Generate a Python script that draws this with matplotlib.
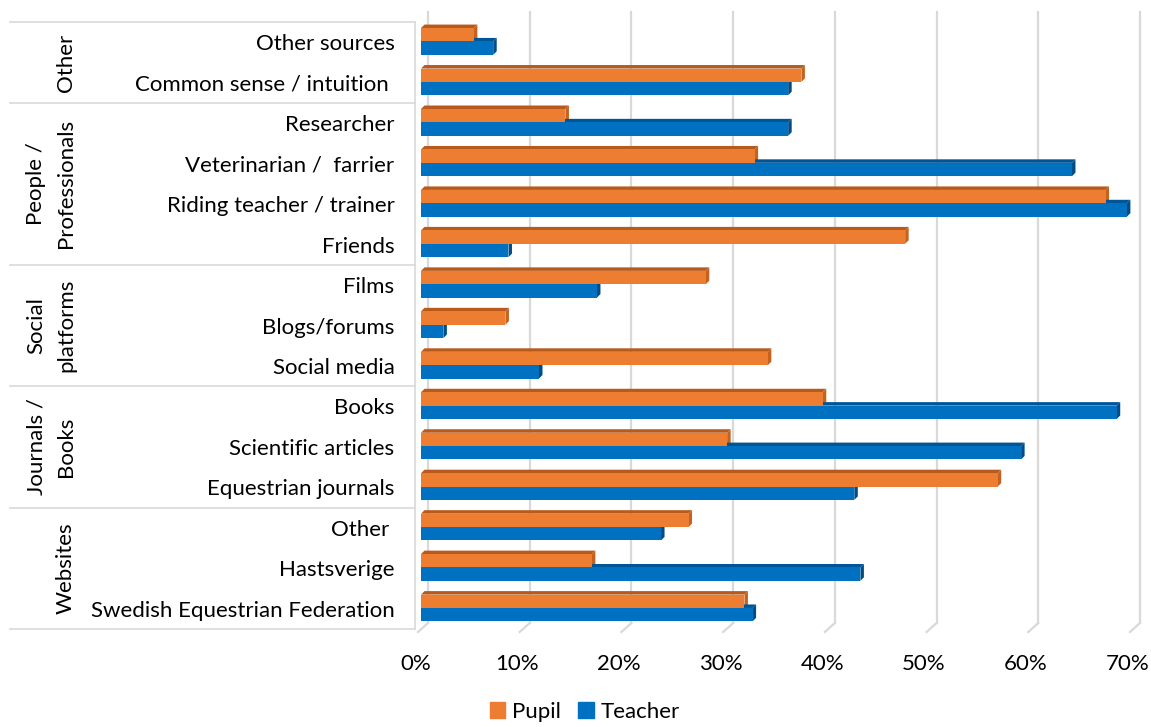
import numpy as np
import matplotlib.pyplot as plt
from matplotlib.patches import Polygon, Patch
from matplotlib.transforms import blended_transform_factory, ScaledTranslation

# categories from top to bottom
categories = ["Other sources", "Common sense / intuition ", "Researcher",
              "Veterinarian /  farrier", "Riding teacher / trainer", "Friends",
              "Films", "Blogs/forums", "Social media", "Books",
              "Scientific articles", "Equestrian journals", "Other ",
              "Hastsverige", "Swedish Equestrian Federation"]
pupil = [5.2, 37.4, 14.2, 32.8, 67.3, 47.6, 28.0, 8.3, 34.1, 39.5,
         30.1, 56.7, 26.3, 16.8, 31.8]
teacher = [7.1, 36.1, 36.1, 64.0, 69.4, 8.6, 17.3, 2.2, 11.6, 68.4,
           59.0, 42.6, 23.6, 43.2, 32.6]
groups = ["Other", "People /\nProfessionals", "Social\nplatforms", "Journals /\nBooks", "Websites"]
group_sizes = [2, 4, 3, 3, 3]
ticks = [0, 10, 20, 30, 40, 50, 60, 70]

plt.rcParams['font.family'] = ['Lato', 'DejaVu Sans']
fig = plt.figure(figsize=(11.51, 7.27), dpi=100)
W, H = 1151, 727
ax = fig.add_axes([421 / W, 98 / H, 712 / W, 607 / H])

n = len(categories)
y = np.arange(n)[::-1]  # top category gets highest y
h = 0.33
ax.set_xlim(0, 70)
ax.set_ylim(-0.5, n - 0.5)

# pixel -> data helpers for the 3D look
px_x = 70 / 712
px_y = n / 607
dx, dy = 3.5 * px_x, 3.5 * px_y

# back wall gridlines with a small floor slant
for t in ticks:
    gx = t + 7 * px_x
    ax.plot([gx, gx], [-0.5 + 6 * px_y, n - 0.5 + 10 * px_y], color='#d9d9d9', lw=1.6,
            clip_on=False, zorder=0)
    ax.plot([gx, t - 3 * px_x], [-0.5 + 6 * px_y, -0.5 - 3 * px_y], color='#d9d9d9', lw=1.6,
            clip_on=False, zorder=0)

series = [(pupil, y + h / 2 + 0.02, '#ED7D31', '#B85A1B', '#C4621F'),
          (teacher, y - h / 2 + 0.02, '#0070C0', '#005596', '#004C87')]
for vals, ys, face, top, side in series:
    ax.barh(ys, vals, height=h, color=face, zorder=3, linewidth=0)
    for v, yc in zip(vals, ys):
        yt = yc + h / 2
        ax.add_patch(Polygon([(0, yt), (v, yt), (v + dx, yt + dy), (dx, yt + dy)],
                             closed=True, color=top, lw=0, zorder=2, clip_on=False))
        ax.add_patch(Polygon([(v, yt), (v + dx, yt + dy), (v + dx, yt - h + dy), (v, yt - h)],
                             closed=True, color=side, lw=0, zorder=2, clip_on=False))

for s in ax.spines.values():
    s.set_visible(False)
ax.set_yticks(y)
ax.set_yticklabels(categories, fontsize=16, color='#000000')
ax.set_xticks(ticks)
ax.set_xticklabels([f"{t}%" for t in ticks], fontsize=16, color='#000000')
ax.tick_params(axis='y', length=0, pad=19)
ax.tick_params(axis='x', length=0, pad=18)
shift = ScaledTranslation(-4 / 72, 0, fig.dpi_scale_trans)
for lab in ax.get_xticklabels():
    lab.set_transform(lab.get_transform() + shift)

# group separators and labels on the left
tr = blended_transform_factory(fig.transFigure, ax.transData)
bounds = [n - 0.5]
for s in group_sizes:
    bounds.append(bounds[-1] - s)
for b in bounds:
    ax.plot([10 / W, 415 / W], [b, b], color='#d9d9d9', lw=1.2, transform=tr, clip_on=False)
ax.plot([415 / W, 415 / W], [bounds[0], bounds[-1]], color='#d9d9d9', lw=1.2,
        transform=tr, clip_on=False)
for g, top_b, bot_b in zip(groups, bounds[:-1], bounds[1:]):
    ax.text(76 / W, (top_b + bot_b) / 2, g, rotation=90, ha='right', va='center',
            fontsize=16, transform=tr, linespacing=1.6, multialignment='center')

handles = [Patch(color='#ED7D31', label='Pupil'), Patch(color='#0070C0', label='Teacher')]
fig.legend(handles=handles, loc='lower center', bbox_to_anchor=(0.508, -0.02), ncol=2,
           frameon=False, fontsize=16, handlelength=0.7, handleheight=0.7,
           handletextpad=0.3, columnspacing=0.8)

fig.savefig('out.png', dpi=100)
